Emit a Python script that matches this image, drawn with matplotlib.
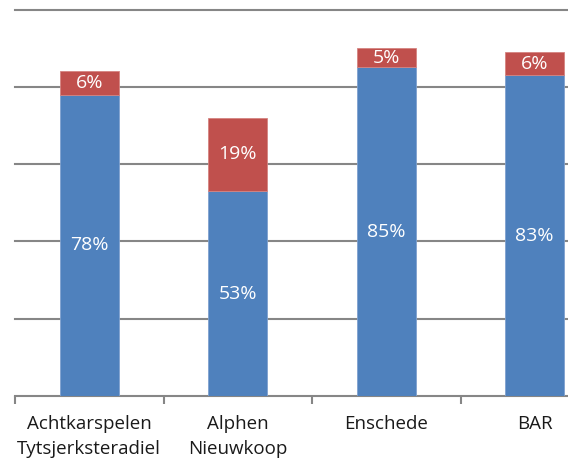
import matplotlib
matplotlib.use("Agg")
import matplotlib.pyplot as plt
import numpy as np

categories = ["Achtkarspelen\nTytsjerksteradiel", "Alphen\nNieuwkoop", "Enschede", "BAR"]
blue_vals = [78, 53, 85, 83]
red_vals = [6, 19, 5, 6]

plt.rcParams['font.family'] = ['Open Sans', 'DejaVu Sans']
plt.rcParams['font.stretch'] = 'normal'

W, H = 568, 462
fig = plt.figure(figsize=(W/100, H/100), dpi=100)
left_px, right_px = 15, 609
bottom_px, top_px = 396, 9.5
ax = fig.add_axes([left_px/W, (H-bottom_px)/H, (right_px-left_px)/W, (bottom_px-top_px)/H])

x = np.arange(len(categories))
bw = 0.40
blue = "#4F81BD"
red = "#C0504D"
ax.bar(x, blue_vals, width=bw, color=blue, edgecolor="#7FA1CF", linewidth=0.6, zorder=3)
ax.bar(x, red_vals, width=bw, bottom=blue_vals, color=red, edgecolor="#D58481", linewidth=0.6, zorder=3)

for i in range(len(categories)):
    ax.text(x[i], blue_vals[i]/2, f"{blue_vals[i]}%", ha="center", va="center", color="white", fontsize=14, zorder=4)
    ax.text(x[i], blue_vals[i] + red_vals[i]/2, f"{red_vals[i]}%", ha="center", va="center", color="white", fontsize=14, zorder=4)

ax.set_xlim(-0.5, len(categories)-0.5)
ax.set_ylim(0, 100)
ax.set_yticks([20, 40, 60, 80, 100])
ax.yaxis.grid(True, color="#868686", linewidth=1.5, zorder=0)
for gl in ax.get_ygridlines():
    gl.set_clip_on(False)
ax.tick_params(axis="y", length=0, labelleft=False)
for s in ["top", "right", "left"]:
    ax.spines[s].set_visible(False)
ax.spines["bottom"].set_color("#868686")
ax.spines["bottom"].set_linewidth(1.5)

ax.set_xticks(np.arange(-0.5, len(categories), 1.0), minor=False)
ax.set_xticklabels([])
ax.tick_params(axis="x", which="major", length=6, width=1.5, color="#868686", direction="out")
ax.set_xticks(x, minor=True)
ax.set_xticklabels(categories, minor=True, fontsize=13.5, color="#1a1a1a", linespacing=1.45)
ax.tick_params(axis="x", which="minor", length=0, pad=14)

fig.savefig("out.png", dpi=100)
